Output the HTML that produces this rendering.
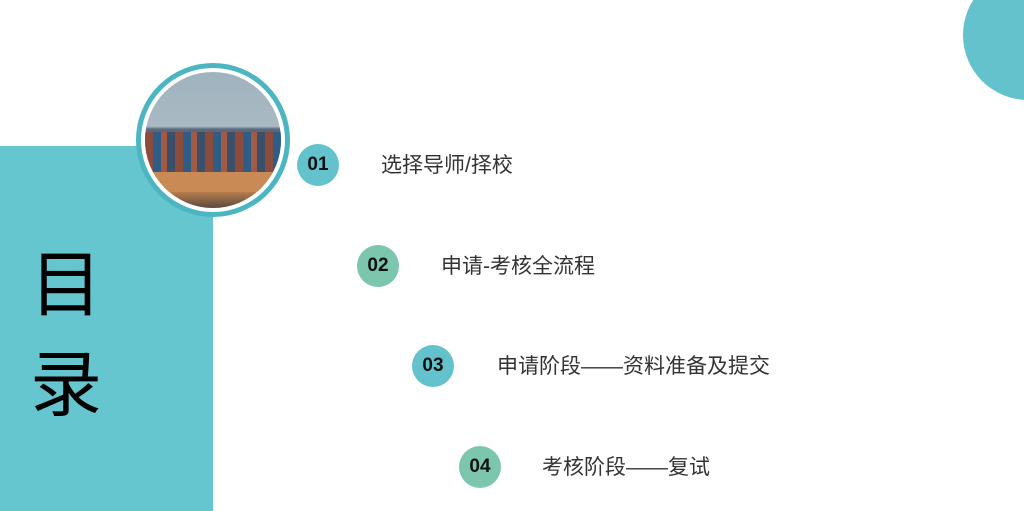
<!DOCTYPE html>
<html><head><meta charset="utf-8"><style>
body{margin:0;width:1024px;height:511px;overflow:hidden;background:#fff;position:relative;font-family:"Liberation Sans","Noto Sans CJK SC",sans-serif}
.a{position:absolute}
.panel{left:0;top:146px;width:213px;height:365px;background:#66c6cf}
.big{font-size:72px;color:#000;left:30px;line-height:1}
.tr{left:963px;top:-30px;width:130px;height:130px;border-radius:50%;background:#63c2cb}
.ring{left:136px;top:63px;width:144px;height:144px;border-radius:50%;border:5px solid #4bb5c1;background:#fff}
.photo{left:145px;top:72px;width:136px;height:136px;border-radius:50%;overflow:hidden;background:linear-gradient(#9fb3bf 0%,#aab9c2 40%,#5a6a80 42%,#8a4a3a 55%,#2f5a80 65%,#b07050 75%,#d08a50 85%,#5a4a40 100%)}
.n{width:42px;height:42px;border-radius:50%;font-weight:bold;font-size:19px;color:#111;text-align:center;line-height:42px}
.t{font-size:21px;color:#333;line-height:1}
</style></head><body>
<div class="a tr"></div>
<div class="a panel"></div>
<div class="a big" style="top:250px">目</div>
<div class="a big" style="top:350px">录</div>
<div class="a ring"></div>
<div class="a photo">
<div class="a" style="left:0;top:60px;width:136px;height:45px;background:repeating-linear-gradient(90deg,#8b4b3d 0 8px,#2e5d86 8px 16px,#a35a44 16px 22px,#3b4f6a 22px 30px)"></div>
<div class="a" style="left:0;top:100px;width:136px;height:20px;background:#c98a55"></div>
</div>
<div class="a n" style="left:297px;top:144px;background:#63c2cb">01</div>
<div class="a t" style="left:381px;top:155px">选择导师/择校</div>
<div class="a n" style="left:357px;top:245px;background:#7cc6ae">02</div>
<div class="a t" style="left:441px;top:256px">申请-考核全流程</div>
<div class="a n" style="left:412px;top:345px;background:#63c2cb">03</div>
<div class="a t" style="left:497px;top:356px">申请阶段——资料准备及提交</div>
<div class="a n" style="left:459px;top:446px;background:#7cc6ae">04</div>
<div class="a t" style="left:542px;top:457px">考核阶段——复试</div>
</body></html>
